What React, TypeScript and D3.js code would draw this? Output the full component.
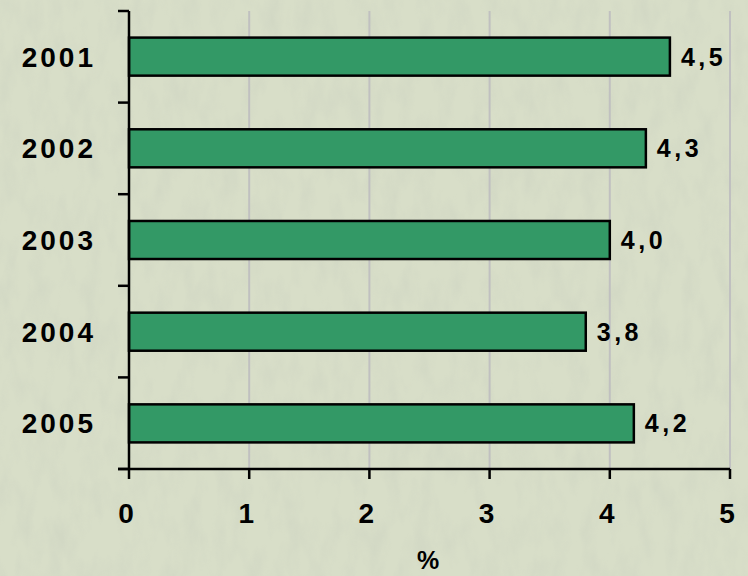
import * as d3 from 'd3';
import { useEffect, useRef } from 'react';

const years = ['2001', '2002', '2003', '2004', '2005'];
const rates = [4.5, 4.3, 4.0, 3.8, 4.2];
const rateLabels = ['4,5', '4,3', '4,0', '3,8', '4,2'];
const xTicks = [0, 1, 2, 3, 4, 5];

const width = 748;
const height = 576;

export default function App() {
  const ref = useRef<SVGSVGElement>(null);

  useEffect(() => {
    if (!ref.current) return;
    const svg = d3.select(ref.current);
    svg.selectAll('*').remove();

    const left = 129;
    const right = 730;
    const top = 11;
    const bottom = 469;

    const x = d3.scaleLinear().domain([0, 5]).range([left, right]);
    const y = d3.scaleBand<string>().domain(years).range([top, bottom]).paddingInner(0.585).paddingOuter(0.29);
    const step = (bottom - top) / years.length;
    const font = 'Liberation Sans, Arial, sans-serif';

    // photo-like background (grass texture)
    const defs = svg.append('defs');
    const filter = defs.append('filter').attr('id', 'grass').attr('x', 0).attr('y', 0).attr('width', '100%').attr('height', '100%');
    filter.append('feTurbulence').attr('type', 'fractalNoise').attr('baseFrequency', '0.06 0.025').attr('numOctaves', 3).attr('seed', 7);
    filter
      .append('feColorMatrix')
      .attr('type', 'matrix')
      .attr('values', '0 0 0 0 0.58  0 0 0 0 0.62  0 0 0 0 0.52  2.2 0 0 0 -0.9');

    svg.append('rect').attr('width', width).attr('height', height).attr('fill', '#d8dec8');
    svg.append('rect').attr('width', width).attr('height', height).attr('filter', 'url(#grass)').attr('opacity', 0.35);

    // gridlines
    svg
      .append('g')
      .selectAll('line')
      .data(xTicks.slice(1))
      .join('line')
      .attr('x1', (d) => x(d))
      .attr('x2', (d) => x(d))
      .attr('y1', top)
      .attr('y2', bottom)
      .attr('stroke', '#c0c0c0')
      .attr('stroke-width', 2);

    // bars
    svg
      .append('g')
      .selectAll('rect')
      .data(rates)
      .join('rect')
      .attr('x', x(0))
      .attr('y', (_, i) => y(years[i]) as number)
      .attr('width', (d) => x(d) - x(0))
      .attr('height', y.bandwidth())
      .attr('fill', '#339966')
      .attr('stroke', '#000')
      .attr('stroke-width', 2.5);

    // value labels
    svg
      .append('g')
      .selectAll('text')
      .data(rates)
      .join('text')
      .attr('x', (d) => x(d) + 11)
      .attr('y', (_, i) => (y(years[i]) as number) + y.bandwidth() / 2)
      .attr('dy', '0.36em')
      .attr('font-family', font)
      .attr('font-weight', 'bold')
      .attr('font-size', 25)
      .attr('letter-spacing', 3.5)
      .attr('fill', '#000')
      .text((_, i) => rateLabels[i]);

    // y axis
    const yAxis = svg.append('g').attr('stroke', '#000').attr('stroke-width', 2.5);
    yAxis.append('line').attr('x1', left).attr('x2', left).attr('y1', top).attr('y2', bottom);
    yAxis
      .selectAll('line.tick')
      .data(d3.range(years.length + 1))
      .join('line')
      .attr('class', 'tick')
      .attr('x1', left - 11)
      .attr('x2', left)
      .attr('y1', (i) => top + i * step)
      .attr('y2', (i) => top + i * step);

    svg
      .append('g')
      .selectAll('text')
      .data(years)
      .join('text')
      .attr('x', 96)
      .attr('y', (d) => (y(d) as number) + y.bandwidth() / 2)
      .attr('dy', '0.36em')
      .attr('text-anchor', 'end')
      .attr('font-family', font)
      .attr('font-weight', 'bold')
      .attr('font-size', 28)
      .attr('letter-spacing', 3)
      .attr('fill', '#000')
      .text((d) => d);

    // x axis
    const xAxis = svg.append('g').attr('stroke', '#000').attr('stroke-width', 2.5);
    xAxis.append('line').attr('x1', left - 11).attr('x2', right).attr('y1', bottom).attr('y2', bottom);
    xAxis
      .selectAll('line.tick')
      .data(xTicks)
      .join('line')
      .attr('class', 'tick')
      .attr('x1', (d) => x(d))
      .attr('x2', (d) => x(d))
      .attr('y1', bottom)
      .attr('y2', bottom + 10);

    svg
      .append('g')
      .selectAll('text')
      .data(xTicks)
      .join('text')
      .attr('x', (d) => x(d) - 3)
      .attr('y', 513)
      .attr('dy', '0.36em')
      .attr('text-anchor', 'middle')
      .attr('font-family', font)
      .attr('font-weight', 'bold')
      .attr('font-size', 28)
      .attr('fill', '#000')
      .text((d) => String(d));

    svg
      .append('text')
      .attr('x', 428)
      .attr('y', 560)
      .attr('dy', '0.36em')
      .attr('text-anchor', 'middle')
      .attr('font-family', font)
      .attr('font-weight', 'bold')
      .attr('font-size', 25)
      .attr('fill', '#000')
      .text('%');
  }, []);

  return (
    <svg
      ref={ref}
      width={width}
      height={height}
      style={{ position: 'absolute', left: 0, top: 0, display: 'block' }}
    />
  );
}
